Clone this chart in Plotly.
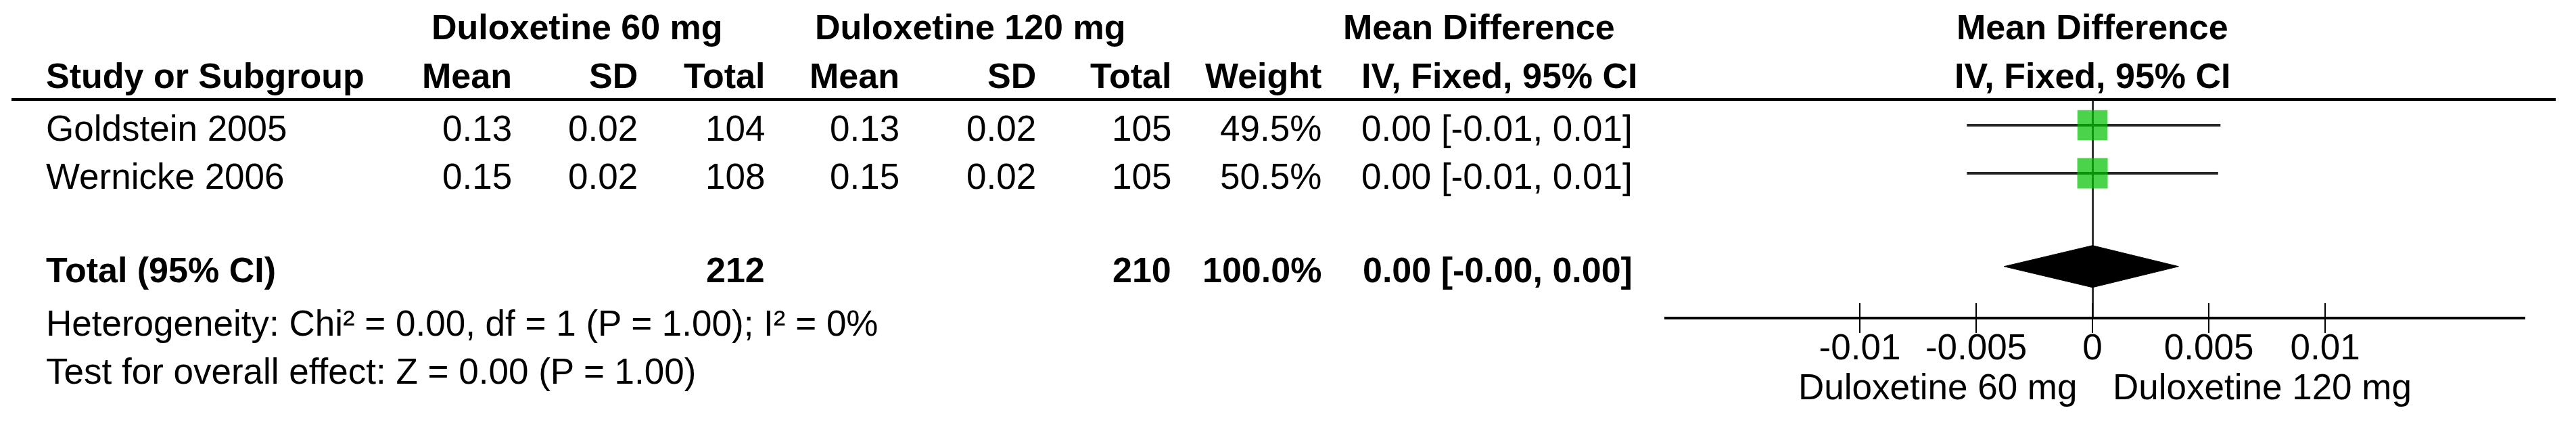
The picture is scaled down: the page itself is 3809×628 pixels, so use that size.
import plotly.graph_objects as go

# ---------------- data ----------------
studies = ["Goldstein 2005", "Wernicke 2006"]
mean_60 = [0.13, 0.15]
sd_60 = [0.02, 0.02]
n_60 = [104, 108]
mean_120 = [0.13, 0.15]
sd_120 = [0.02, 0.02]
n_120 = [105, 105]
weight_pct = [49.5, 50.5]
md = [0.0, 0.0]
ci_low = [-0.0054, -0.0054]
ci_high = [0.0055, 0.0054]
md_text = ["0.00 [-0.01, 0.01]", "0.00 [-0.01, 0.01]"]

total_label = "Total (95% CI)"
total_n_60 = 212
total_n_120 = 210
total_weight = 100.0
total_md = 0.0
total_ci_low = -0.0038
total_ci_high = 0.0037
total_md_text = "0.00 [-0.00, 0.00]"

heterogeneity = "Heterogeneity: Chi² = 0.00, df = 1 (P = 1.00); I² = 0%"
overall = "Test for overall effect: Z = 0.00 (P = 1.00)"

tick_vals = [-0.01, -0.005, 0, 0.005, 0.01]
tick_text = ["-0.01", "-0.005", "0", "0.005", "0.01"]
group_a = "Duloxetine 60 mg"
group_b = "Duloxetine 120 mg"

# ---------------- layout constants ----------------
W, H = 3809, 628
FONT = "Liberation Sans, Arial, sans-serif"
FS_B = 52
FS_R = 53
ROWS = [0, 1]
TOTAL_ROW = 2.94
PLOT_TOP, PLOT_BOT = 147, 468
ROW0_PX, ROW_PITCH = 185, 71
Y_RANGE = [(PLOT_BOT - ROW0_PX) / ROW_PITCH, (PLOT_TOP - ROW0_PX) / ROW_PITCH]
TEXT_SHIFT = -4


def xp(x):
    return x / W


def yp(y):
    return 1 - y / H


annotations = []


def txt(text, x, y, anchor="right", bold=False, yref="paper", yshift=0, xref="paper", xshift=0):
    annotations.append(dict(
        text=f"<b>{text}</b>" if bold else text,
        x=x, y=y, xref=xref, yref=yref, xanchor=anchor, yanchor="middle",
        showarrow=False, xshift=xshift, yshift=yshift,
        font=dict(family=FONT, size=FS_B if bold else FS_R, color="black"),
    ))


# headers
txt(group_a, xp(853), yp(40), "center", True)
txt(group_b, xp(1434), yp(40), "center", True)
txt("Mean Difference", xp(2187), yp(40), "center", True)
txt("Mean Difference", 0, yp(40), "center", True, xref="x")
txt("Study or Subgroup", xp(66), yp(112), "left", True)
col_x = [759, 945, 1133, 1332, 1534, 1734, 1956]
for lab, cx in zip(["Mean", "SD", "Total", "Mean", "SD", "Total", "Weight"], col_x):
    txt(lab, xp(cx), yp(112), "right", True)
txt("IV, Fixed, 95% CI", xp(2217), yp(112), "center", True)
txt("IV, Fixed, 95% CI", 0, yp(112), "center", True, xref="x")

# study rows
for i, r in enumerate(ROWS):
    vals = [f"{mean_60[i]:.2f}", f"{sd_60[i]:.2f}", f"{n_60[i]}",
            f"{mean_120[i]:.2f}", f"{sd_120[i]:.2f}", f"{n_120[i]}",
            f"{weight_pct[i]:.1f}%"]
    txt(studies[i], xp(66), r, "left", yref="y", yshift=TEXT_SHIFT)
    for v, cx in zip(vals, col_x):
        txt(v, xp(cx), r, "right", yref="y", yshift=TEXT_SHIFT)
    txt(md_text[i], xp(2416), r, "right", yref="y", yshift=TEXT_SHIFT)

# total row
txt(total_label, xp(66), TOTAL_ROW, "left", True, yref="y", yshift=-5)
txt(f"{total_n_60}", xp(1133), TOTAL_ROW, "right", True, yref="y", yshift=-5)
txt(f"{total_n_120}", xp(1734), TOTAL_ROW, "right", True, yref="y", yshift=-5)
txt(f"{total_weight:.1f}%", xp(1956), TOTAL_ROW, "right", True, yref="y", yshift=-5)
txt(total_md_text, xp(2416), TOTAL_ROW, "right", True, yref="y", yshift=-5)

# footer
txt(heterogeneity, xp(66), yp(477), "left")
txt(overall, xp(66), yp(548), "left")

# favours labels
txt(group_a, 0, yp(571), "right", xref="x", xshift=-21)
txt(group_b, 0, yp(571), "left", xref="x", xshift=28)

fig = go.Figure()

# CI lines and weight boxes
fig.add_trace(go.Scatter(
    x=md, y=ROWS, mode="markers",
    marker=dict(symbol="square", color="#00c000",
                size=[45 * (w / max(weight_pct)) ** 0.5 for w in weight_pct],
                line=dict(width=0)),
    error_x=dict(type="data", symmetric=False,
                 array=[h - m for h, m in zip(ci_high, md)],
                 arrayminus=[m - l for m, l in zip(md, ci_low)],
                 thickness=4, width=0, color="#262626"),
    hoverinfo="skip", showlegend=False,
))

# total diamond
DH = 31 / ROW_PITCH
fig.add_trace(go.Scatter(
    x=[total_ci_low, total_md, total_ci_high, total_md, total_ci_low],
    y=[TOTAL_ROW, TOTAL_ROW - DH, TOTAL_ROW, TOTAL_ROW + DH, TOTAL_ROW],
    mode="lines", fill="toself", fillcolor="black",
    line=dict(color="black", width=1),
    hoverinfo="skip", showlegend=False,
))

# dummy trace for the overlay axis (upward ticks)
fig.add_trace(go.Scatter(x=[], y=[], xaxis="x2", yaxis="y", showlegend=False))

# header rule
fig.add_shape(type="line", xref="paper", yref="paper",
              x0=xp(17), x1=xp(3779), y0=yp(147), y1=yp(147),
              line=dict(color="black", width=4))

fig.update_layout(
    width=W, height=H,
    margin=dict(l=0, r=0, t=0, b=0),
    paper_bgcolor="white", plot_bgcolor="white",
    font=dict(family=FONT, size=FS_R, color="black"),
    xaxis=dict(
        domain=[xp(2461), xp(3734)], range=[-0.0184, 0.0186],
        showgrid=False, zeroline=True, zerolinecolor="#333333", zerolinewidth=3,
        showline=True, linecolor="black", linewidth=4,
        ticks="outside", ticklen=20, tickwidth=2, tickcolor="black",
        tickvals=tick_vals, ticktext=tick_text, ticklabelstandoff=-25,
        tickfont=dict(family=FONT, size=FS_R, color="black"),
        fixedrange=True,
    ),
    xaxis2=dict(
        overlaying="x", matches="x", anchor="y", side="bottom",
        showgrid=False, zeroline=False, showline=False,
        ticks="inside", ticklen=20, tickwidth=2, tickcolor="black",
        tickvals=tick_vals, showticklabels=False,
    ),
    yaxis=dict(
        domain=[yp(PLOT_BOT), yp(PLOT_TOP)], range=Y_RANGE,
        visible=False, showgrid=False, zeroline=False, fixedrange=True,
    ),
    annotations=annotations,
)

fig.write_html("out.html", config={"displayModeBar": False},
               post_script="document.body.style.margin='0px';")
